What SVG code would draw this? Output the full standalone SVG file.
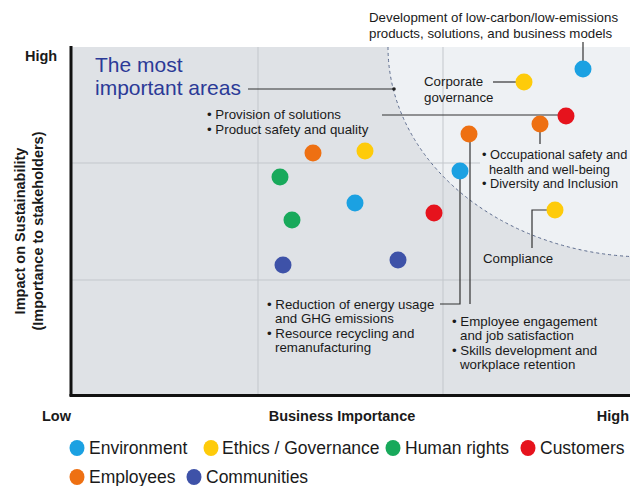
<svg xmlns="http://www.w3.org/2000/svg" width="642" height="486" viewBox="0 0 642 486">
<style>
text{font-family:"Liberation Sans",Arial,sans-serif;fill:#1a1a1a}
.lbl{font-size:13.3px}
.lbs{font-size:12.8px}
.ax{font-size:14.5px;font-weight:bold}
.leg{font-size:17.5px}
.ttl{font-size:21px;fill:#2b3a97}
.grid{stroke:#c3c7cc;stroke-width:1;fill:none}
.con{stroke:#333;stroke-width:1.2;fill:none}
.env{fill:#1ba1e2}.eth{fill:#fecb0a}.hum{fill:#18a95b}.cus{fill:#e6131d}.emp{fill:#ee7012}.com{fill:#3e52a8}
</style>
<g id="plot">
<rect x="71" y="47" width="559" height="348" fill="#dfe2e6"/>
<path d="M388,47 A260,210 0 0 0 630,256.5 L630,47 Z" fill="#eef1f4"/>
<line class="grid" x1="258" y1="47" x2="258" y2="395"/>
<line class="grid" x1="443" y1="47" x2="443" y2="395"/>
<line class="grid" x1="71" y1="163" x2="480" y2="163"/>
<line class="grid" x1="71" y1="280" x2="630" y2="280"/>
<path d="M388,47 A260,210 0 0 0 630,256.5" fill="none" stroke="#5d6c8e" stroke-width="1" stroke-dasharray="3,3"/>
<line x1="71" y1="46" x2="71" y2="396" stroke="#111" stroke-width="3"/>
<line x1="69.5" y1="395.5" x2="630" y2="395.5" stroke="#111" stroke-width="3"/>
</g>
<g id="axes">
<text class="ax" x="25" y="61">High</text>
<text class="ax" x="42" y="421">Low</text>
<text class="ax" x="342" y="421" text-anchor="middle">Business Importance</text>
<text class="ax" x="629" y="421" text-anchor="end">High</text>
<text class="ax" transform="translate(25,231) rotate(-90)" text-anchor="middle">Impact on Sustainability</text>
<text class="ax" transform="translate(43,231) rotate(-90)" text-anchor="middle">(Importance to stakeholders)</text>
</g>
<g id="connectors">
<line class="con" x1="248" y1="89" x2="394" y2="89"/>
<circle cx="394" cy="89" r="1.8" fill="#222"/>
<line class="con" x1="382" y1="115" x2="566" y2="115"/>
<line class="con" x1="583" y1="42" x2="583" y2="69"/>
<line class="con" x1="493" y1="82" x2="524" y2="82"/>
<line class="con" x1="540" y1="124" x2="540" y2="144"/>
<polyline class="con" points="555,210 532,210 532,248"/>
<polyline class="con" points="460,171 460,304 440,304"/>
<line class="con" x1="470" y1="134" x2="470" y2="304"/>
</g>
<g id="title">
<text class="ttl" x="95" y="72">The most</text>
<text class="ttl" x="95" y="95">important areas</text>
</g>
<g id="n-lowcarbon">
<text class="lbl" x="369" y="22">Development of low-carbon/low-emissions</text>
<text class="lbl" x="369" y="38">products, solutions, and business models</text>
<circle class="env" cx="583" cy="69" r="8.5"/>
</g>
<g id="n-governance">
<text class="lbl" x="424" y="86">Corporate</text>
<text class="lbl" x="424" y="102">governance</text>
<circle class="eth" cx="524" cy="82" r="8.5"/>
</g>
<g id="n-solutions">
<text class="lbl" x="207" y="119">• Provision of solutions</text>
<text class="lbl" x="207" y="134">• Product safety and quality</text>
<circle class="cus" cx="566" cy="116" r="8.5"/>
</g>
<g id="n-occupational">
<text class="lbs" x="482" y="159">• Occupational safety and</text>
<text class="lbs" x="489" y="174">health and well-being</text>
<text class="lbs" x="482" y="188">• Diversity and Inclusion</text>
<circle class="emp" cx="540" cy="124" r="8.5"/>
</g>
<g id="n-compliance">
<text class="lbl" x="483" y="263">Compliance</text>
<circle class="eth" cx="555" cy="210" r="8.5"/>
</g>
<g id="n-energy">
<text class="lbl" x="267" y="309">• Reduction of energy usage</text>
<text class="lbl" x="275" y="323">and GHG emissions</text>
<text class="lbl" x="267" y="338">• Resource recycling and</text>
<text class="lbl" x="275" y="352">remanufacturing</text>
<circle class="env" cx="460" cy="171" r="8.5"/>
</g>
<g id="n-engagement">
<text class="lbl" x="452" y="326">• Employee engagement</text>
<text class="lbl" x="460" y="340">and job satisfaction</text>
<text class="lbl" x="452" y="355">• Skills development and</text>
<text class="lbl" x="460" y="369">workplace retention</text>
<circle class="emp" cx="469" cy="134" r="8.5"/>
</g>
<g id="n-others">
<circle class="cus" cx="434" cy="213" r="8.5"/>
<circle class="emp" cx="313" cy="153" r="8.5"/>
<circle class="eth" cx="365" cy="151" r="8.5"/>
<circle class="hum" cx="280" cy="177" r="8.5"/>
<circle class="env" cx="355" cy="203" r="8.5"/>
<circle class="hum" cx="292" cy="220" r="8.5"/>
<circle class="com" cx="283" cy="265" r="8.5"/>
<circle class="com" cx="398" cy="260" r="8.5"/>
</g>
<g id="legend">
<ellipse class="env" cx="77" cy="448" rx="7.5" ry="8"/>
<text class="leg" x="89" y="454">Environment</text>
<ellipse class="eth" cx="211" cy="448" rx="7.5" ry="8"/>
<text class="leg" x="222" y="454">Ethics / Governance</text>
<ellipse class="hum" cx="393" cy="448" rx="7.5" ry="8"/>
<text class="leg" x="405" y="454">Human rights</text>
<ellipse class="cus" cx="528" cy="448" rx="7.5" ry="8"/>
<text class="leg" x="540" y="454">Customers</text>
<ellipse class="emp" cx="77" cy="477" rx="7.5" ry="8"/>
<text class="leg" x="89" y="483">Employees</text>
<ellipse class="com" cx="194" cy="477" rx="7.5" ry="8"/>
<text class="leg" x="206" y="483">Communities</text>
</g>
</svg>
